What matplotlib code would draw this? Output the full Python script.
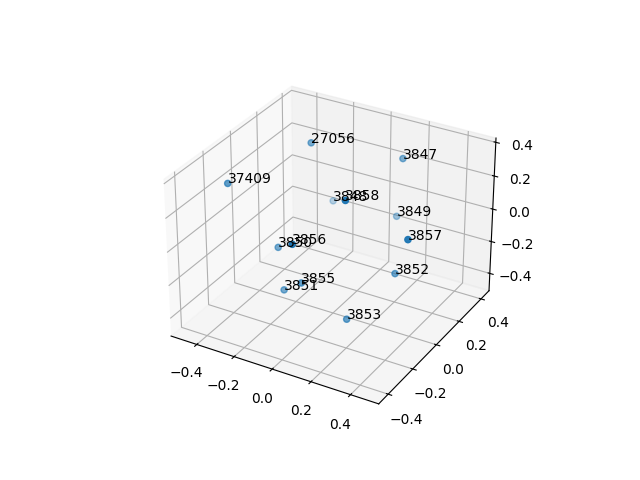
import matplotlib
matplotlib.use("Agg")
import matplotlib.pyplot as plt

labels = ["27056", "3847", "37409", "3848", "3858", "3849", "3857", "3856", "3850", "3852", "3855", "3851", "3853"]
xs = [-0.241, 0.127, -0.452, -0.244, 0.159, 0.09, 0.434, 0.017, -0.242, 0.27, -0.058, -0.170, 0.146]
ys = [0.191, 0.374, -0.148, 0.373, -0.147, 0.39, -0.085, -0.338, -0.073, 0.086, -0.164, -0.135, -0.113]
zs = [0.331, 0.239, 0.229, -0.136, 0.322, -0.136, 0.145, 0.145, -0.136, -0.229, -0.229, -0.331, -0.415]

fig = plt.figure(figsize=(6.4, 4.8), dpi=100)
ax = fig.add_subplot(projection="3d")
ax.scatter(xs, ys, zs)
for x, y, z, s in zip(xs, ys, zs, labels):
    ax.text(x, y, z, s)
ax.set_xlim(-0.54, 0.54)
ax.set_ylim(-0.475, 0.475)
ax.set_zlim(-0.51, 0.425)
fig.savefig("out.png", dpi=100)
